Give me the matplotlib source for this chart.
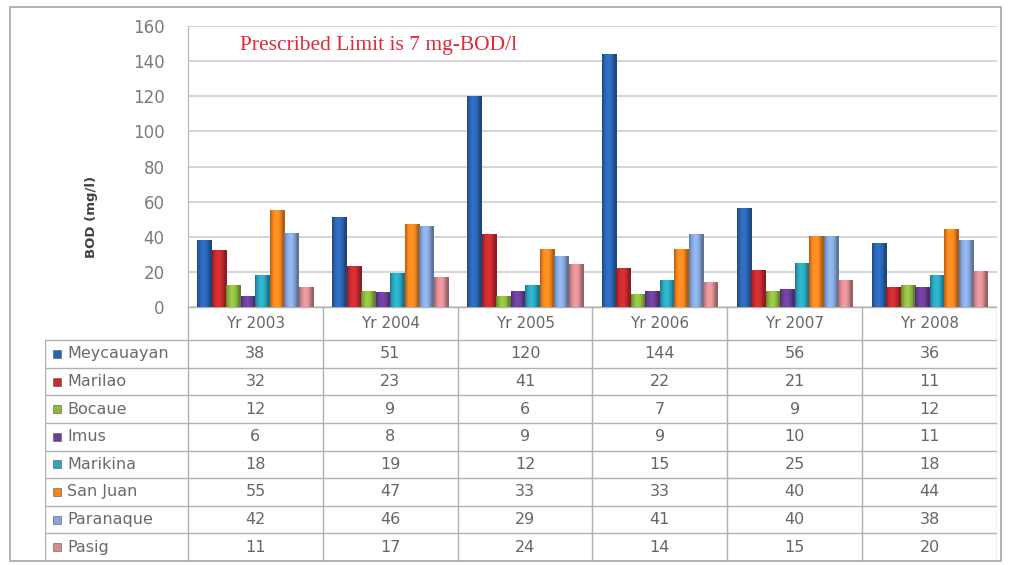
import matplotlib.pyplot as plt
import numpy as np
from matplotlib.colors import to_rgb
from matplotlib.patches import Rectangle

# BOD readings per station and year
years = ["Yr 2003", "Yr 2004", "Yr 2005", "Yr 2006", "Yr 2007", "Yr 2008"]
stations = ["Meycauayan", "Marilao", "Bocaue", "Imus", "Marikina",
            "San Juan", "Paranaque", "Pasig"]
meycauayan = [38, 51, 120, 144, 56, 36]
marilao = [32, 23, 41, 22, 21, 11]
bocaue = [12, 9, 6, 7, 9, 12]
imus = [6, 8, 9, 9, 10, 11]
marikina = [18, 19, 12, 15, 25, 18]
san_juan = [55, 47, 33, 33, 40, 44]
paranaque = [42, 46, 29, 41, 40, 38]
pasig = [11, 17, 24, 14, 15, 20]
series = [meycauayan, marilao, bocaue, imus, marikina, san_juan, paranaque, pasig]
colors = ["#2b64b2", "#c52a2e", "#8cb83e", "#6b3e98", "#2aa5bd",
          "#f5841f", "#86a6db", "#d98b91"]

W, H = 1011, 565
fig = plt.figure(figsize=(W / 100, H / 100), dpi=100)
fig.patch.set_facecolor("white")

# outer chart frame
fig.patches.append(Rectangle((10 / W, 4 / H), 991 / W, 554 / H,
                             transform=fig.transFigure, fill=False,
                             edgecolor="#a6a6a6", linewidth=1.2))

# plot area
px_left, px_right, px_zero, px_top = 188, 997, 307, 26
ax = fig.add_axes([px_left / W, (H - px_zero) / H,
                   (px_right - px_left) / W, (px_zero - px_top) / H])
ax.set_facecolor("none")

x = np.arange(len(years))
bw = 0.1075
t = np.linspace(0, 1, 40)
shade = 0.70 + 0.42 * np.sin(np.pi * np.clip(t * 1.15, 0, 1)) ** 0.8
for i, (vals, col) in enumerate(zip(series, colors)):
    bars = ax.bar(x + (i - 3.5) * bw, vals, width=bw, color=col,
                  linewidth=0, zorder=3)
    base = np.array(to_rgb(col))
    grad = np.clip(base[None, :] * shade[:, None], 0, 1)[None, :, :]
    for p in bars:
        x0, y0 = p.get_x(), p.get_y()
        ax.imshow(grad, extent=[x0, x0 + p.get_width(), y0, y0 + p.get_height()],
                  aspect="auto", clip_path=p, clip_on=True, zorder=4,
                  interpolation="bilinear")

ax.set_xlim(-0.5, len(years) - 0.5)
ax.set_ylim(0, 160)
ax.set_yticks(range(0, 161, 20))
ax.set_xticks([])
ax.tick_params(axis="y", length=0, pad=17, labelsize=12, labelcolor="#7a7a7a")
ax.yaxis.grid(True, color="#d4d4d4", linewidth=1.4, zorder=0)
ax.set_axisbelow(True)
for s in ["top", "right", "bottom"]:
    ax.spines[s].set_visible(False)
ax.spines["left"].set_color("#b5b5b5")

fig.text(92 / W, 1 - 217 / H, "BOD (mg/l)", rotation=90, fontsize=9.5,
         fontweight="bold", color="#404040", ha="center", va="center")

ax.text(0.064, 0.93, "Prescribed Limit is 7 mg-BOD/l", transform=ax.transAxes,
        family="Liberation Serif", fontsize=15.5, color="#e02a38",
        ha="left", va="center")

# data table under the plot
px_tleft, px_tbottom = 45, 561
unit = (px_right - px_left) / len(years)
xl = -0.5 - (px_left - px_tleft) / unit
head = 1.2
nrows = len(stations)
tax = fig.add_axes([px_tleft / W, (H - px_tbottom) / H,
                    (px_right - px_tleft) / W, (px_tbottom - px_zero) / H])
tax.set_xlim(xl, len(years) - 0.5)
tax.set_ylim(head + nrows, 0)
tax.axis("off")

line_kw = dict(color="#b0b0b0", linewidth=1.0)
tax.plot([-0.5, len(years) - 0.5], [0, 0], **line_kw)
for r in range(nrows + 1):
    tax.plot([xl, len(years) - 0.5], [head + r, head + r], **line_kw)
for c in range(len(years) + 1):
    tax.plot([c - 0.5, c - 0.5], [0, head + nrows], **line_kw)
tax.plot([xl, xl], [head, head + nrows], **line_kw)

for c, yr in enumerate(years):
    tax.text(c, head / 2, yr, ha="center", va="center", fontsize=11,
             color="#666666")

for r, (name, vals, col) in enumerate(zip(stations, series, colors)):
    yc = head + r + 0.5
    tax.scatter([xl + 12 / unit], [yc], marker="s", s=36, color=col,
                edgecolors="#555555", linewidths=0.4, clip_on=False)
    tax.text(xl + 22 / unit, yc, name, ha="left", va="center", fontsize=11.5,
             color="#6a6a6a")
    for c, v in enumerate(vals):
        tax.text(c, yc, str(v), ha="center", va="center", fontsize=11.5,
                 color="#666666")

fig.savefig("out.png", dpi=100)
